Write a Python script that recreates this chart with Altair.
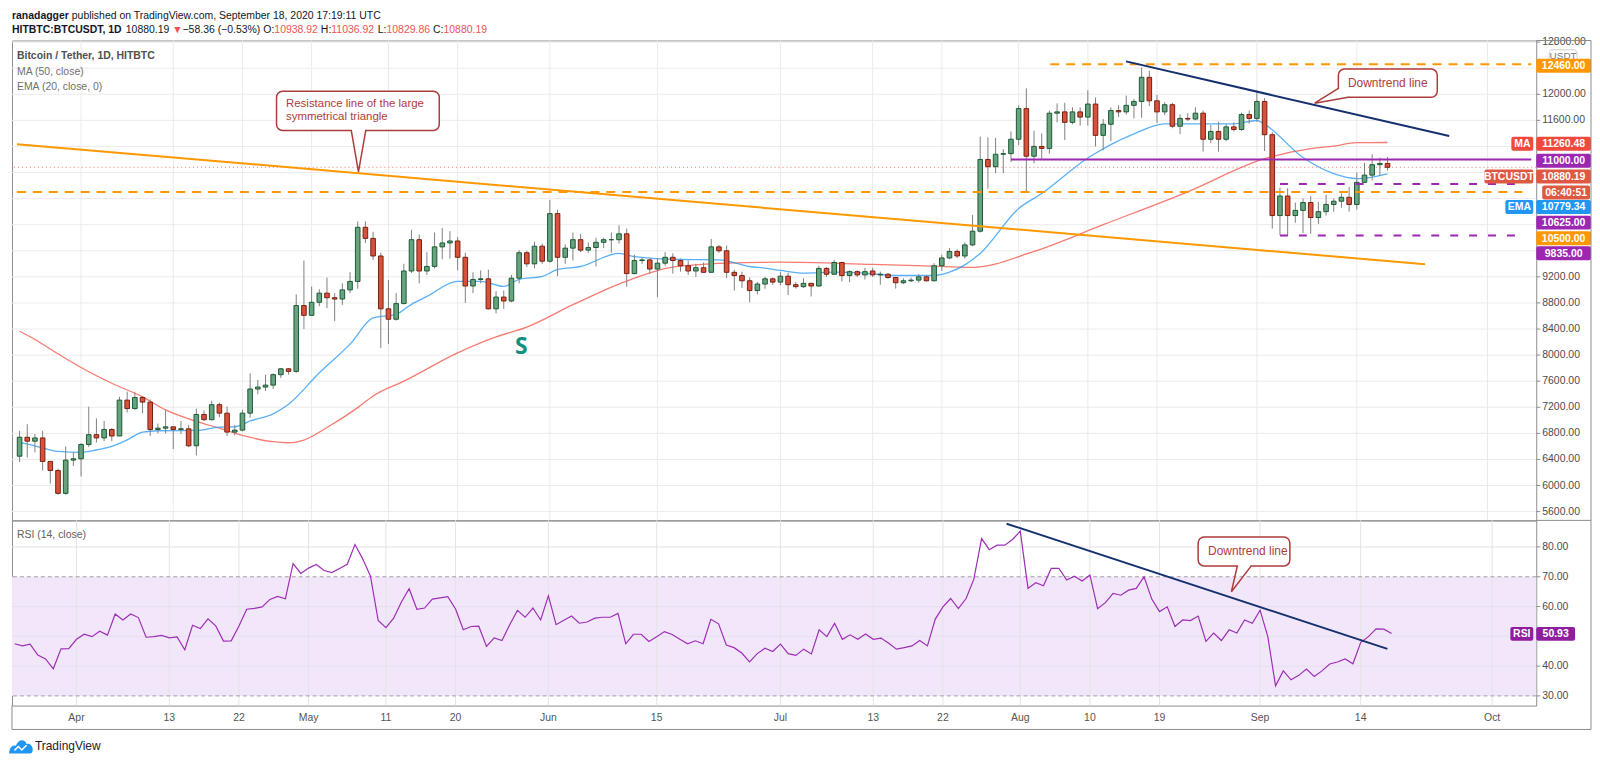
import altair as alt
import pandas as pd
from datetime import datetime, timezone

# ===================== DATA =====================
FIRST_DAY = "2020-03-24"

opens = [
    6450, 6740, 6680, 6730, 6370, 6230, 5880, 6390,
    6410, 6630, 6780, 6730, 6860, 6760, 7310, 7180, 7350, 7280, 6860, 6880, 6900, 6860, 6870, 6610, 7090, 7010, 7240, 7110, 6820, 6850, 7110, 7480, 7510, 7540, 7700, 7790, 7750, 8760,
    8610, 8810, 8950, 8880, 8860, 9000, 9130, 9960, 9790, 9520, 8710, 8550, 8790, 9290, 9770, 9290, 9360, 9660, 9720, 9750, 9500, 9060, 9160, 9170, 8710, 8890, 8830, 9180, 9570, 9400, 9670,
    9440, 10170, 9500, 9640, 9770, 9610, 9650, 9730, 9770, 9770, 9860, 9250, 9450, 9460, 9320, 9410, 9500, 9450, 9370, 9290, 9340, 9270, 9660, 9600, 9270, 9220, 9140, 8990, 9090, 9170,
    9120, 9210, 9080, 9050, 9100, 9060, 9330, 9240, 9420, 9220, 9280, 9230, 9290, 9230, 9240, 9190, 9110, 9140, 9150, 9200, 9140, 9370, 9490, 9590, 9520, 9690, 9900, 11000, 10890, 11080, 11090,
    11310, 11780, 11050, 11200, 11170, 11710, 11730, 11570, 11730, 11650, 11850, 11370, 11540, 11750, 11730, 11830, 11890, 12260, 11900, 11730, 11840, 11510, 11630, 11620, 11710, 11310, 11430, 11310, 11500, 11460, 11690,
    11630, 11890, 11380, 10140, 10440, 10140, 10220, 10340, 10110, 10200, 10310, 10360, 10420, 10310, 10650, 10760, 10920, 10938.92,
]
highs = [
    6840, 6940, 6790, 6840, 6370, 6260, 6600, 6510,
    6650, 7210, 7030, 6990, 6880, 7360, 7440, 7430, 7370, 7320, 6950, 7160, 6910, 6990, 6930, 7180, 7150, 7300, 7270, 7210, 6930, 7160, 7720, 7620, 7700, 7720, 7800, 7800, 8930, 9450,
    9050, 9010, 9190, 8950, 9100, 9270, 10050, 10050, 9890, 9570, 9150, 8950, 9400, 9920, 9850, 9580, 9880, 9950, 9900, 9810, 9570, 9270, 9300, 9310, 8980, 8990, 9230, 9610, 9600, 9740, 9710,
    10380, 10230, 9700, 9880, 9860, 9730, 9800, 9800, 9880, 9990, 9940, 9540, 9500, 9480, 9490, 9580, 9560, 9480, 9450, 9400, 9420, 9780, 9690, 9680, 9310, 9280, 9190, 9120, 9200, 9190,
    9280, 9260, 9120, 9180, 9110, 9370, 9350, 9460, 9430, 9300, 9300, 9340, 9340, 9280, 9260, 9200, 9180, 9190, 9240, 9220, 9410, 9540, 9640, 9620, 9730, 10150, 11350, 11340, 11330, 11160, 11430,
    11830, 12090, 11440, 11400, 11750, 11860, 11870, 11800, 11800, 12060, 11950, 11620, 11800, 11830, 11980, 11930, 12410, 12360, 11990, 11880, 11870, 11690, 11710, 11800, 11750, 11530, 11580, 11540, 11570, 11720, 11750,
    12060, 11940, 11420, 10570, 10560, 10340, 10400, 10440, 10350, 10460, 10400, 10480, 10580, 10800, 10950, 11080, 11030, 11036.92,
]
lows = [
    6360, 6430, 6510, 6230, 6030, 5860, 5860, 6300,
    6140, 6590, 6660, 6680, 6680, 6760, 7120, 7160, 7110, 6760, 6800, 6800, 6560, 6790, 6590, 6460, 6990, 7000, 7050, 6760, 6770, 6830, 7040, 7400, 7450, 7480, 7650, 7700, 7730, 8400,
    8610, 8750, 8720, 8520, 8770, 8950, 9020, 9720, 9460, 8110, 8170, 8530, 8780, 9260, 9100, 9230, 9330, 9470, 9480, 9300, 8800, 8950, 9100, 8700, 8640, 8710, 8810, 9100, 9350, 9330, 9400,
    9420, 9210, 9400, 9450, 9580, 9570, 9360, 9640, 9570, 9710, 9050, 9240, 9400, 9250, 8890, 9370, 9250, 9280, 9230, 9200, 9260, 9270, 9570, 9180, 8990, 9030, 8810, 8930, 9020, 9080,
    9070, 8920, 9020, 9030, 8900, 9050, 9200, 9230, 9130, 9120, 9200, 9160, 9200, 9080, 9170, 9020, 9090, 9120, 9110, 9130, 9130, 9290, 9470, 9490, 9480, 9670, 9880, 10550, 10790, 10790, 10960,
    11220, 10500, 10940, 11010, 11090, 11570, 11300, 11540, 11520, 11520, 11200, 11140, 11280, 11650, 11690, 11630, 11640, 11820, 11560, 11680, 11480, 11390, 11590, 11600, 11120, 11250, 11120, 11280, 11430, 11440, 11550,
    11580, 11130, 9940, 9840, 9840, 10030, 9870, 9860, 10010, 10140, 10200, 10260, 10200, 10230, 10640, 10680, 10750, 10829.86,
]
closes = [
    6740, 6680, 6730, 6370, 6230, 5880, 6390, 6410,
    6630, 6780, 6730, 6860, 6760, 7310, 7180, 7350, 7280, 6860, 6880, 6900, 6860, 6870, 6610, 7090, 7010, 7240, 7110, 6820, 6850, 7110, 7480, 7510, 7540, 7700, 7790, 7750, 8760, 8610,
    8810, 8950, 8880, 8860, 9000, 9130, 9960, 9790, 9520, 8710, 8550, 8790, 9290, 9770, 9290, 9360, 9660, 9720, 9750, 9500, 9060, 9160, 9170, 8710, 8890, 8830, 9180, 9570, 9400, 9670, 9440,
    10170, 9500, 9640, 9770, 9610, 9650, 9730, 9770, 9770, 9860, 9250, 9450, 9460, 9320, 9410, 9500, 9450, 9370, 9290, 9340, 9270, 9660, 9600, 9270, 9220, 9140, 8990, 9090, 9170, 9120,
    9210, 9080, 9050, 9100, 9060, 9330, 9240, 9420, 9220, 9280, 9230, 9280, 9230, 9240, 9190, 9110, 9140, 9150, 9200, 9140, 9370, 9490, 9590, 9520, 9690, 9900, 11000, 10890, 11080, 11090, 11310,
    11780, 11050, 11200, 11170, 11710, 11730, 11570, 11730, 11650, 11850, 11370, 11540, 11750, 11730, 11830, 11890, 12260, 11900, 11730, 11840, 11510, 11630, 11620, 11710, 11310, 11430, 11310, 11500, 11460, 11690, 11630,
    11890, 11380, 10140, 10440, 10140, 10220, 10340, 10110, 10200, 10310, 10360, 10420, 10310, 10650, 10760, 10920, 10938.92, 10880.19,
]
rsi_values = [
    47.5, 46.8, 47.4, 43.7, 42.4, 39.1, 45.8, 45.9,
    49.0, 50.7, 49.9, 51.7, 50.4, 57.5, 55.5, 57.5, 56.3, 49.7, 49.9, 50.3, 49.5, 49.8, 45.5, 53.7, 52.6, 55.9, 53.5, 48.4, 48.5, 53.5, 59.1, 59.4, 59.9, 62.4, 63.4, 62.6, 74.4, 71.1,
    72.9, 74.1, 72.1, 71.4, 72.8, 74.2, 80.8, 76.0, 70.2, 55.3, 52.9, 56.1, 61.5, 66.0, 59.1, 59.5, 62.5, 62.9, 63.3, 59.2, 52.2, 53.3, 53.4, 46.6, 49.5, 48.6, 53.9, 58.7, 56.4, 59.5, 55.5,
    63.6, 53.9, 55.4, 56.8, 54.4, 54.8, 56.1, 56.4, 56.4, 57.7, 47.5, 50.7, 50.7, 48.3, 49.9, 51.6, 50.6, 49.0, 47.5, 48.5, 47.5, 55.7, 54.2, 47.1, 46.2, 44.4, 41.4, 44.2, 46.0, 44.9,
    47.4, 44.2, 43.6, 45.7, 44.1, 52.2, 49.9, 54.4, 49.0, 50.5, 49.0, 50.8, 49.0, 49.4, 47.7, 45.7, 46.2, 46.8, 48.6, 46.8, 55.7, 59.9, 62.7, 59.3, 62.7, 69.2, 82.8, 79.1, 80.6, 80.6, 82.5,
    85.3, 66.1, 68.0, 67.0, 72.8, 72.8, 68.9, 70.2, 68.6, 70.6, 59.3, 61.3, 64.4, 63.8, 65.5, 66.1, 70.0, 62.5, 58.3, 59.9, 53.3, 55.5, 55.3, 56.8, 48.3, 51.1, 48.6, 52.2, 51.1, 55.5, 54.4,
    58.8, 49.9, 33.4, 38.4, 35.4, 36.9, 39.0, 36.5, 38.4, 40.7, 41.4, 42.4, 40.8, 47.9, 49.9, 52.5, 52.4, 50.93,
]

ma50_dates = ["2020-03-24", "2020-03-26", "2020-03-29", "2020-04-01", "2020-04-05", "2020-04-09", "2020-04-12",
              "2020-04-16", "2020-04-19", "2020-04-22", "2020-04-26", "2020-04-28", "2020-04-30", "2020-05-03",
              "2020-05-07", "2020-05-09", "2020-05-13", "2020-05-20", "2020-05-25", "2020-05-29", "2020-06-04",
              "2020-06-10", "2020-06-17", "2020-06-24", "2020-07-01", "2020-07-13", "2020-07-22", "2020-07-26",
              "2020-08-03", "2020-08-12", "2020-08-23", "2020-09-02", "2020-09-08", "2020-09-11", "2020-09-14",
              "2020-09-18"]
ma50_vals = [8366, 8240, 8020, 7810, 7568, 7360, 7160, 6985, 6880, 6770, 6672, 6656, 6698, 6890, 7195, 7374,
             7600, 8035, 8280, 8430, 8773, 9090, 9350, 9410, 9425, 9390, 9360, 9345, 9590, 10000, 10504, 11012,
             11166, 11206, 11258, 11260.48]

ema20_dates = ["2020-03-24", "2020-03-26", "2020-03-29", "2020-04-01", "2020-04-03", "2020-04-05", "2020-04-07",
               "2020-04-09", "2020-04-11", "2020-04-16", "2020-04-19", "2020-04-21", "2020-04-23", "2020-04-26",
               "2020-04-28", "2020-05-02", "2020-05-06", "2020-05-09", "2020-05-12", "2020-05-14", "2020-05-16",
               "2020-05-20", "2020-05-23", "2020-05-26", "2020-05-28", "2020-05-31", "2020-06-02", "2020-06-05",
               "2020-06-10", "2020-06-12", "2020-06-18", "2020-06-23", "2020-06-27", "2020-06-29", "2020-07-01",
               "2020-07-04", "2020-07-08", "2020-07-12", "2020-07-16", "2020-07-21", "2020-07-23", "2020-07-25",
               "2020-07-27", "2020-08-01", "2020-08-04", "2020-08-10", "2020-08-16", "2020-08-20", "2020-08-25",
               "2020-08-29", "2020-09-01", "2020-09-02", "2020-09-07", "2020-09-11", "2020-09-14", "2020-09-16",
               "2020-09-18"]
ema20_vals = [6661, 6610, 6524, 6509, 6545, 6600, 6700, 6820, 6840, 6845, 6895, 6901, 6990, 7100, 7247, 7730,
              8168, 8570, 8626, 8779, 8900, 9130, 9130, 9053, 9160, 9206, 9313, 9359, 9560, 9511, 9466, 9460,
              9359, 9333, 9298, 9257, 9272, 9257, 9221, 9221, 9272, 9384, 9560, 10249, 10478, 11023, 11394,
              11547, 11547, 11547, 11598, 11540, 11030, 10783, 10707, 10730, 10779.34]

# drawings anchored in (time, value)
resistance_t = ["2020-03-23T16:00:00Z", "2020-09-22T21:20:00Z"]
resistance_p = [11235, 9394]
downtrend_t = ["2020-08-14T23:15:00Z", "2020-09-26T00:30:00Z"]
downtrend_p = [12504, 11359]
rsi_down_t = ["2020-07-30T05:30:00Z", "2020-09-17T11:00:00Z"]
rsi_down_v = [87.8, 45.8]

price_grid = list(range(5600, 12801, 400))
price_ticklabels = [12800, 12000, 11600, 9200, 8800, 8400, 8000, 7600, 7200, 6800, 6400, 6000, 5600]
rsi_grid = [80, 60, 50, 40]
rsi_dashed = [70, 30]
rsi_ticklabels = [80, 70, 60, 40, 30]
date_ticks = ["2020-04-01", "2020-04-13", "2020-04-22", "2020-05-01", "2020-05-11", "2020-05-20", "2020-06-01",
              "2020-06-15", "2020-07-01", "2020-07-13", "2020-07-22", "2020-08-01", "2020-08-10", "2020-08-19",
              "2020-09-01", "2020-09-14", "2020-10-01"]
date_ticklabels = ["Apr", "13", "22", "May", "11", "20", "Jun", "15", "Jul", "13", "22", "Aug", "10", "19",
                   "Sep", "14", "Oct"]

# ===================== LAYOUT =====================
W, HP, HR = 1531, 482, 186
APR1 = datetime(2020, 4, 1, tzinfo=timezone.utc).timestamp() * 1000
DAY = 86400000.0
X_APR1, PX_DAY = 72.8, 7.77
dom0 = APR1 + (8.0 - X_APR1) / PX_DAY * DAY
dom1 = APR1 + (1539.0 - X_APR1) / PX_DAY * DAY


def iso(ms):
    return datetime.fromtimestamp(ms / 1000, tz=timezone.utc).strftime("%Y-%m-%dT%H:%M:%SZ")


T0, T1 = iso(dom0), iso(dom1)

FONT = "Liberation Sans"
DARK = "#131722"
ORANGE = "#ff9800"
PURPLE = "#9c27b0"
MA_RED = "#f04a3f"
PX_RED = "#de5842"
BLUE = "#2196f3"
RSI_PURPLE = "#8f1f9f"
NAVY = "#15306f"
CALLOUT = "#ad3d3a"
VALRED = "#ef5350"
FRAME = "#8c8c8c"
GRID = "#ebebeb"

xs = alt.Scale(type="utc", domain=[dom0, dom1])
ps = alt.Scale(domain=[5465.6, 12824.4], zero=False, nice=False)
rs = alt.Scale(domain=[26.76, 88.92], zero=False, nice=False)


def X(f="date"):
    return alt.X(f"{f}:T", scale=xs, axis=None)


def YP(f):
    return alt.Y(f"{f}:Q", scale=ps, axis=None)


def YR(f):
    return alt.Y(f"{f}:Q", scale=rs, axis=None)


one = pd.DataFrame({"k": [0]})

# Arial / Liberation Sans advance widths (1/1000 em)
AR = {' ': 278, '!': 278, '%': 889, '(': 333, ')': 333, ',': 278, '-': 333, '.': 278, '/': 278, ':': 278,
      '\u2212': 584, '\u25bc': 700}
for d in "0123456789":
    AR[d] = 556
AR.update(dict(zip("ABCDEFGHIJKLMNOPQRSTUVWXYZ",
                   [667, 667, 722, 722, 667, 611, 778, 722, 278, 500, 667, 556, 833, 722, 778, 667, 778, 722, 667,
                    611, 722, 667, 944, 667, 667, 611])))
AR.update(dict(zip("abcdefghijklmnopqrstuvwxyz",
                   [556, 556, 500, 556, 556, 278, 556, 556, 222, 222, 500, 222, 833, 556, 556, 556, 556, 333, 500,
                    278, 556, 500, 722, 500, 500, 500])))
ARB = dict(AR)
ARB[':'] = 333
ARB.update(dict(zip("ABCDEFGHIJKLMNOPQRSTUVWXYZ",
                    [722, 722, 722, 722, 667, 611, 778, 722, 278, 556, 722, 611, 833, 722, 778, 667, 778, 722, 667,
                     611, 722, 667, 944, 667, 667, 611])))
ARB.update(dict(zip("abcdefghijklmnopqrstuvwxyz",
                    [556, 611, 556, 611, 556, 333, 611, 611, 278, 278, 556, 278, 889, 611, 611, 611, 611, 389, 556,
                     333, 611, 556, 778, 556, 556, 500])))


def tw(s, size, bold=False):
    t = ARB if bold else AR
    return sum(t.get(c, 556) for c in s) * size / 1000.0


def vtext(txt, x, y, size=10.5, color=DARK, bold=False, align="left", baseline="middle"):
    return alt.Chart(one).mark_text(text=txt, align=align, baseline=baseline, fontSize=size, color=color,
                                    font=FONT, fontWeight="bold" if bold else "normal").encode(
        x=alt.value(x), y=alt.value(y))


def vrule(x, y, x2=None, y2=None, color=FRAME, width=1):
    enc = dict(x=alt.value(x), y=alt.value(y))
    if x2 is not None:
        enc["x2"] = alt.value(x2)
    if y2 is not None:
        enc["y2"] = alt.value(y2)
    return alt.Chart(one).mark_rule(color=color, strokeWidth=width).encode(**enc)


def vrect(x, x2, y, y2, fill, stroke=None, r=0):
    kw = dict(fill=fill, cornerRadius=r)
    if stroke:
        kw.update(stroke=stroke, strokeWidth=1)
    return alt.Chart(one).mark_rect(**kw).encode(x=alt.value(x), x2=alt.value(x2), y=alt.value(y),
                                                 y2=alt.value(y2))


def tag(txt, color, x0, x1, yc, h=14):
    return [vrect(x0, x1, yc - h / 2, yc + h / 2, color, r=2),
            vtext(txt, (x0 + x1) / 2, yc + 0.5, size=10.5, color="white", bold=True, align="center")]


def seq_text(segs, x0, y, size):
    out = []
    x = x0
    for txt, bold, color in segs:
        body = txt.lstrip(" ")
        x += tw(" " * (len(txt) - len(body)), size, bold)
        out.append(vtext(body, x, y, size=size, color=color, bold=bold))
        x += tw(body, size, bold)
    return out


# ===================== DATAFRAMES =====================
n = len(closes)
dates = pd.date_range(FIRST_DAY, periods=n, freq="D").strftime("%Y-%m-%dT00:00:00Z").tolist()
cdf = pd.DataFrame({"date": dates, "open": opens, "high": highs, "low": lows, "close": closes,
                    "rsi": rsi_values})
ma_df = pd.DataFrame({"date": [d + "T00:00:00Z" for d in ma50_dates], "v": ma50_vals})
ema_df = pd.DataFrame({"date": [d + "T00:00:00Z" for d in ema20_dates], "v": ema20_vals})
tick_df = pd.DataFrame({"date": [d + "T00:00:00Z" for d in date_ticks], "lab": date_ticklabels})

# ===================== PRICE PANE =====================
up = "datum.close >= datum.open"
P = []
P.append(alt.Chart(pd.DataFrame({"v": price_grid})).mark_rule(color=GRID, strokeWidth=1).encode(y=YP("v")))
P.append(alt.Chart(tick_df).mark_rule(color=GRID, strokeWidth=1).encode(x=X()))
# price line (dotted)
P.append(alt.Chart(pd.DataFrame({"v": [10880.19]})).mark_rule(color=VALRED, strokeDash=[1, 3], strokeWidth=1,
                                                              opacity=0.8).encode(y=YP("v")))
# moving averages
P.append(alt.Chart(ma_df).mark_line(color="#f44336", strokeWidth=1.3, opacity=0.7, interpolate="monotone")
         .encode(x=X(), y=YP("v")))
P.append(alt.Chart(ema_df).mark_line(color="#2196f3", strokeWidth=1.3, opacity=0.75, interpolate="monotone")
         .encode(x=X(), y=YP("v")))
# candles
P.append(alt.Chart(cdf).mark_rule(strokeWidth=1, color="#808080").encode(x=X(), y=YP("low"), y2="high"))
P.append(alt.Chart(cdf).mark_bar(size=4.6, strokeWidth=1).encode(
    x=X(), y=YP("open"), y2="close",
    fill=alt.condition(up, alt.value("#67a381"), alt.value("#d8513b")),
    stroke=alt.condition(up, alt.value("#1c5a31"), alt.value("#76200f"))))
# drawings: horizontal levels
lv_orange = pd.DataFrame({"t0": ["2020-08-05T02:40:00Z", T0], "t1": [T1, "2020-10-05T13:00:00Z"],
                          "p": [12460, 10500]})
lv_purple = pd.DataFrame({"t0": ["2020-07-31T00:00:00Z"], "t1": [T1], "p": [11000]})
lv_purple_d = pd.DataFrame({"t0": ["2020-09-04T00:00:00Z"] * 2, "t1": ["2020-10-05T13:00:00Z"] * 2,
                            "p": [10625, 9835]})
P.append(alt.Chart(lv_orange).mark_rule(color=ORANGE, strokeWidth=2, strokeDash=[9, 7])
         .encode(x=X("t0"), x2="t1", y=YP("p")))
P.append(alt.Chart(lv_purple).mark_rule(color=PURPLE, strokeWidth=2).encode(x=X("t0"), x2="t1", y=YP("p")))
P.append(alt.Chart(lv_purple_d).mark_rule(color=PURPLE, strokeWidth=2, strokeDash=[8, 11])
         .encode(x=X("t0"), x2="t1", y=YP("p")))
# trend lines
P.append(alt.Chart(pd.DataFrame({"date": resistance_t, "v": resistance_p})).mark_line(color=ORANGE, strokeWidth=2)
         .encode(x=X(), y=YP("v")))
P.append(alt.Chart(pd.DataFrame({"date": downtrend_t, "v": downtrend_p})).mark_line(color=NAVY, strokeWidth=2)
         .encode(x=X(), y=YP("v")))
# callout 1 (resistance)
box1 = pd.DataFrame({"t0": ["2020-04-26T10:30:00Z"], "t1": ["2020-05-17T14:40:00Z"], "y0": [12046], "y1": [11446]})
P.append(alt.Chart(box1).mark_rect(fill="white", stroke=CALLOUT, strokeWidth=1.5, cornerRadius=6)
         .encode(x=X("t0"), x2="t1", y=YP("y0"), y2="y1"))
P.append(alt.Chart(pd.DataFrame({"t0": ["2020-05-06T06:00:00Z"], "t1": ["2020-05-07T23:00:00Z"], "p": [11446]}))
         .mark_rule(color="white", strokeWidth=3).encode(x=X("t0"), x2="t1", y=YP("p")))
P.append(alt.Chart(pd.DataFrame({"date": ["2020-05-06T03:50:00Z", "2020-05-07T02:20:00Z", "2020-05-08T01:10:00Z"],
                                 "v": [11446, 10809, 11446], "o": [0, 1, 2]}))
         .mark_line(color=CALLOUT, strokeWidth=1.5).encode(x=X(), y=YP("v"), order="o:Q"))
P.append(alt.Chart(pd.DataFrame({"date": ["2020-04-27T16:00:00Z"] * 2, "v": [11855, 11650],
                                 "s": ["Resistance line of the large", "symmetrical triangle"]}))
         .mark_text(align="left", baseline="middle", fontSize=11.5, color=CALLOUT, font=FONT)
         .encode(x=X(), y=YP("v"), text="s:N"))
# callout 2 (downtrend)
box2 = pd.DataFrame({"t0": ["2020-09-11T14:24:00Z"], "t1": ["2020-09-24T11:17:00Z"], "y0": [12386], "y1": [11954]})
P.append(alt.Chart(box2).mark_rect(fill="white", stroke=CALLOUT, strokeWidth=1.5, cornerRadius=6)
         .encode(x=X("t0"), x2="t1", y=YP("y0"), y2="y1"))
P.append(alt.Chart(pd.DataFrame({"t0": ["2020-09-11T10:00:00Z"], "t1": ["2020-09-12T19:00:00Z"], "y0": [12080],
                                 "y1": [11938]}))
         .mark_rect(fill="white").encode(x=X("t0"), x2="t1", y=YP("y0"), y2="y1"))
P.append(alt.Chart(pd.DataFrame({"date": ["2020-09-11T14:24:00Z", "2020-09-08T12:30:00Z", "2020-09-12T21:00:00Z"],
                                 "v": [12092, 11863, 11954], "o": [0, 1, 2]}))
         .mark_line(color=CALLOUT, strokeWidth=1.5).encode(x=X(), y=YP("v"), order="o:Q"))
P.append(alt.Chart(pd.DataFrame({"date": ["2020-09-18T00:45:00Z"], "v": [12170], "s": ["Downtrend line"]}))
         .mark_text(align="center", baseline="middle", fontSize=12, color=CALLOUT, font=FONT)
         .encode(x=X(), y=YP("v"), text="s:N"))
# "S" marker
P.append(alt.Chart(pd.DataFrame({"date": ["2020-05-28T07:00:00Z"], "v": [8122], "s": ["S"]}))
         .mark_text(align="center", baseline="middle", fontSize=23, fontWeight="bold", color="#10907e",
                    font="Open Sans").encode(x=X(), y=YP("v"), text="s:N"))
# pane legend
P.append(vtext("Bitcoin / Tether, 1D, HITBTC", 5, 15.5, size=10.5, color="#505050", bold=True))
P.append(vtext("MA (50, close)", 5, 32, size=10.5, color="#707070"))
P.append(vtext("EMA (20, close, 0)", 5, 47, size=10.5, color="#707070"))
# header
P += seq_text([("ranadagger", True, DARK),
               (" published on TradingView.com, September 18, 2020 17:19:11 UTC", False, DARK)], 0, -25, 10.5)
P += seq_text([("HITBTC:BTCUSDT, 1D", True, DARK), (" 10880.19", False, DARK), (" \u25bc", False, VALRED),
               (" \u221258.36 (\u22120.53%)", False, DARK), (" O:", False, DARK), ("10938.92", False, VALRED),
               (" H:", False, DARK), ("11036.92", False, VALRED), (" L:", False, DARK),
               ("10829.86", False, VALRED), (" C:", False, DARK), ("10880.19", False, VALRED)], 0, -10.5, 10.5)
# price axis labels and ticks
lab_df = pd.DataFrame({"v": price_ticklabels})
P.append(alt.Chart(lab_df).mark_rule(color=FRAME).encode(x=alt.value(W), x2=alt.value(W + 4), y=YP("v")))
P.append(alt.Chart(lab_df).mark_text(align="left", baseline="middle", fontSize=10.5, color="#4c4c4c", font=FONT)
         .encode(x=alt.value(W + 6), y=YP("v"), text=alt.Text("v:Q", format=".2f")))
# axis tags
P.append(vrect(1544, 1572, 9.3, 21.3, "white", stroke="#cfcfcf", r=3))
P.append(vtext("USDT", 1558, 15.8, size=10, color="#787878", align="center"))
for t in [("12460.00", ORANGE, W, W + 55, 25.3),
          ("MA", MA_RED, 1506, 1528, 103.7), ("11260.48", MA_RED, W, W + 55, 103.7),
          ("11000.00", PURPLE, W, W + 55, 120.8),
          ("BTCUSDT", PX_RED, 1479, 1528, 136.5), ("10880.19", PX_RED, W, W + 55, 136.5),
          ("06:40:51", PX_RED, 1537, 1585, 152.7),
          ("EMA", BLUE, 1500, 1528, 167.2), ("10779.34", BLUE, W, W + 55, 167.2),
          ("10625.00", PURPLE, W, W + 55, 182.9),
          ("10500.00", ORANGE, W, W + 55, 198.7),
          ("9835.00", PURPLE, W, W + 55, 213.7)]:
    P += tag(*t)
# frame pieces
P.append(vrule(W, 0, x2=W + 55))
P.append(vrule(W + 55, 0, y2=HP))

price = alt.layer(*P).properties(width=W, height=HP)

# ===================== RSI PANE =====================
R = []
R.append(alt.Chart(pd.DataFrame({"hi": [70], "lo": [30]})).mark_rect(color="#f2e6fb").encode(y=YR("hi"), y2="lo"))
R.append(alt.Chart(tick_df).mark_rule(color="#e4e4e4", strokeWidth=1).encode(x=X()))
R.append(alt.Chart(pd.DataFrame({"v": rsi_grid})).mark_rule(color="#e6e0ea", strokeWidth=1).encode(y=YR("v")))
R.append(alt.Chart(pd.DataFrame({"v": rsi_dashed})).mark_rule(color="#a0a0a0", strokeWidth=1, strokeDash=[4, 3])
         .encode(y=YR("v")))
R.append(alt.Chart(cdf).mark_line(color="#9c2fb4", strokeWidth=1.2).encode(x=X(), y=YR("rsi")))
R.append(alt.Chart(pd.DataFrame({"date": rsi_down_t, "v": rsi_down_v})).mark_line(color=NAVY, strokeWidth=2)
         .encode(x=X(), y=YR("v")))
# callout 3
box3 = pd.DataFrame({"t0": ["2020-08-23T23:50:00Z"], "t1": ["2020-09-04T20:24:00Z"], "y0": [83.34], "y1": [73.65]})
R.append(alt.Chart(box3).mark_rect(fill="white", stroke=CALLOUT, strokeWidth=1.5, cornerRadius=6)
         .encode(x=X("t0"), x2="t1", y=YR("y0"), y2="y1"))
R.append(alt.Chart(pd.DataFrame({"t0": ["2020-08-29T03:30:00Z"], "t1": ["2020-08-30T18:30:00Z"], "p": [73.65]}))
         .mark_rule(color="white", strokeWidth=3).encode(x=X("t0"), x2="t1", y=YR("p")))
R.append(alt.Chart(pd.DataFrame({"date": ["2020-08-29T01:30:00Z", "2020-08-28T07:00:00Z", "2020-08-30T20:40:00Z"],
                                 "v": [73.65, 64.96, 73.65], "o": [0, 1, 2]}))
         .mark_line(color=CALLOUT, strokeWidth=1.5).encode(x=X(), y=YR("v"), order="o:Q"))
R.append(alt.Chart(pd.DataFrame({"date": ["2020-08-30T10:00:00Z"], "v": [78.5], "s": ["Downtrend line"]}))
         .mark_text(align="center", baseline="middle", fontSize=12, color=CALLOUT, font=FONT)
         .encode(x=X(), y=YR("v"), text="s:N"))
R.append(vtext("RSI (14, close)", 5, 15, size=10.5, color="#606060"))
# rsi axis
rl = pd.DataFrame({"v": rsi_ticklabels})
R.append(alt.Chart(rl).mark_rule(color=FRAME).encode(x=alt.value(W), x2=alt.value(W + 4), y=YR("v")))
R.append(alt.Chart(rl).mark_text(align="left", baseline="middle", fontSize=10.5, color="#4c4c4c", font=FONT)
         .encode(x=alt.value(W + 6), y=YR("v"), text=alt.Text("v:Q", format=".2f")))
R += tag("RSI", RSI_PURPLE, 1505, 1528, 114)
R += tag("50.93", RSI_PURPLE, W, W + 39, 114)
# x axis labels
R.append(alt.Chart(tick_df).mark_text(align="center", baseline="middle", fontSize=10.5, color="#555555", font=FONT)
         .encode(x=X(), y=alt.value(HR + 13), text="lab:N"))
# frame
R.append(vrule(W, 0, x2=W + 55))
R.append(vrule(W + 55, 0, y2=HR + 24))
R.append(vrule(0, HR + 24, x2=W + 55))
R.append(vrule(0, HR, y2=HR + 24))
# TradingView logo
R.append(alt.Chart(one).mark_point(
    shape="M -1 0.6 C -1 0.1 -0.7 -0.15 -0.42 -0.05 C -0.3 -0.6 0.35 -0.7 0.48 -0.2 C 0.8 -0.3 1 0 1 0.3 "
          "C 1 0.5 0.9 0.6 0.75 0.6 Z",
    filled=True, size=560, color="#2196f3", opacity=1).encode(x=alt.value(9), y=alt.value(HR + 41)))
R.append(alt.Chart(one).mark_point(
    shape="M -0.75 0.35 L -0.3 -0.1 L 0.1 0.3 L 0.65 -0.25",
    filled=False, size=300, color="white", strokeWidth=1.6, opacity=1).encode(x=alt.value(9), y=alt.value(HR + 42)))
R.append(vtext("TradingView", 23, HR + 41, size=12, color="#1e222d"))

rsi = alt.layer(*R).properties(width=W, height=HR)

chart = alt.vconcat(price, rsi, spacing=0, bounds="flush", padding=0, background="white").configure_view(
    stroke=FRAME, strokeWidth=1)

chart.save("out.html", embed_options={"renderer": "svg", "actions": False})
